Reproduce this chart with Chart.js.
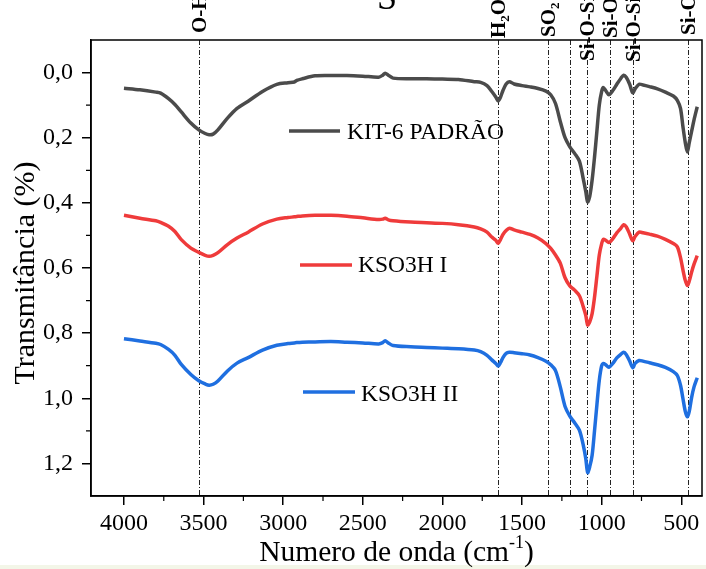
<!DOCTYPE html>
<html>
<head>
<meta charset="utf-8">
<script src="https://cdn.jsdelivr.net/npm/chart.js@4/dist/chart.umd.min.js"></script>
<style>
  html, body { margin: 0; padding: 0; background: #fff; }
  canvas { display: block; }
</style>
</head>
<body>
<canvas id="ftir" width="706" height="569"></canvas>
<script>
// Wavenumber grid (cm-1) shared by the three FTIR spectra
const wavenumbers = [
  4000, 3900, 3800, 3770, 3720, 3680, 3640, 3580, 3530, 3490, 3465, 3440, 3410, 3350, 3290, 3220,
  3130, 3040, 2970, 2930, 2915, 2880, 2800, 2700, 2600, 2500, 2400, 2375, 2360, 2340, 2310, 2200,
  2100, 2000, 1900, 1800, 1760, 1720, 1690, 1665, 1650, 1635, 1620, 1600, 1580, 1550, 1500, 1450,
  1400, 1350, 1320, 1290, 1260, 1230, 1200, 1170, 1140, 1115, 1100, 1088, 1075, 1060, 1045, 1030,
  1015, 1000, 990, 975, 955, 930, 905, 880, 862, 845, 825, 805, 790, 765, 740, 700,
  650, 600, 550, 525, 505, 490, 475, 462, 450, 435, 420, 400
];

// Transmittance of each sample (offset curves)
const kit6Padrao = [
  0.048, 0.053, 0.060, 0.063, 0.080, 0.098, 0.121, 0.155, 0.176, 0.187, 0.191, 0.189, 0.176, 0.140, 0.110, 0.088,
  0.058, 0.036, 0.031, 0.029, 0.024, 0.019, 0.010, 0.009, 0.009, 0.011, 0.014, 0.008, 0.002, 0.008, 0.017, 0.019,
  0.019, 0.020, 0.021, 0.028, 0.030, 0.040, 0.058, 0.075, 0.087, 0.075, 0.055, 0.035, 0.028, 0.035, 0.040, 0.044,
  0.049, 0.057, 0.068, 0.095, 0.150, 0.200, 0.228, 0.248, 0.272, 0.328, 0.365, 0.397, 0.380, 0.330, 0.260, 0.180,
  0.100, 0.058, 0.046, 0.055, 0.068, 0.055, 0.036, 0.018, 0.008, 0.015, 0.035, 0.062, 0.050, 0.036, 0.038, 0.043,
  0.050, 0.060, 0.072, 0.085, 0.110, 0.165, 0.215, 0.244, 0.215, 0.180, 0.145, 0.105
];
const kso3hI = [
  0.438, 0.447, 0.455, 0.460, 0.472, 0.488, 0.513, 0.539, 0.552, 0.561, 0.564, 0.561, 0.553, 0.528, 0.508, 0.490,
  0.465, 0.450, 0.445, 0.443, 0.442, 0.440, 0.438, 0.438, 0.441, 0.446, 0.451, 0.450, 0.447, 0.452, 0.455, 0.459,
  0.461, 0.463, 0.467, 0.474, 0.480, 0.490, 0.505, 0.515, 0.524, 0.512, 0.497, 0.485, 0.478, 0.483, 0.490, 0.497,
  0.508, 0.525, 0.540, 0.560, 0.585, 0.630, 0.655, 0.668, 0.685, 0.720, 0.745, 0.775, 0.765, 0.740, 0.690, 0.625,
  0.560, 0.525, 0.512, 0.515, 0.522, 0.510, 0.492, 0.478, 0.467, 0.474, 0.495, 0.516, 0.503, 0.490, 0.492, 0.496,
  0.502, 0.512, 0.525, 0.535, 0.568, 0.605, 0.638, 0.654, 0.640, 0.612, 0.588, 0.562
];
const kso3hII = [
  0.817, 0.824, 0.831, 0.835, 0.850, 0.868, 0.896, 0.927, 0.946, 0.956, 0.960, 0.957, 0.947, 0.916, 0.892, 0.875,
  0.852, 0.837, 0.832, 0.830, 0.829, 0.828, 0.827, 0.826, 0.828, 0.830, 0.833, 0.829, 0.823, 0.830, 0.838, 0.842,
  0.844, 0.846, 0.848, 0.852, 0.857, 0.868, 0.882, 0.893, 0.901, 0.890, 0.875, 0.862, 0.859, 0.860, 0.863, 0.867,
  0.875, 0.886, 0.897, 0.915, 0.965, 1.025, 1.055, 1.075, 1.098, 1.145, 1.185, 1.228, 1.210, 1.175, 1.100, 1.020,
  0.945, 0.900, 0.893, 0.897, 0.905, 0.893, 0.876, 0.865, 0.859, 0.866, 0.885, 0.906, 0.893, 0.884, 0.886, 0.891,
  0.897, 0.905, 0.918, 0.930, 0.960, 1.000, 1.040, 1.057, 1.040, 0.997, 0.965, 0.937
];

const seriesNames = ['KIT-6 PADRÃO', 'KSO3H I', 'KSO3H II'];
const xTickValues = [4000, 3500, 3000, 2500, 2000, 1500, 1000, 500];
const xMinorTicks = [3750, 3250, 2750, 2250, 1750, 1250, 750];
const yTickValues = [0, 0.2, 0.4, 0.6, 0.8, 1.0, 1.2];
const yMinorTicks = [0.1, 0.3, 0.5, 0.7, 0.9, 1.1];

// Band assignments (cm-1) and their labels
const bandPositions = [3530, 1650, 1335, 1200, 1090, 950, 805, 460];
const bandLabels = ['O-H', 'H₂O', 'SO₂', '', 'Si-O-Si', 'Si-O', 'Si-O-Si', 'Si-O'];

const xTitle = 'Numero de onda (cm';
const xTitleSup = '-1';
const yTitle = 'Transmitância (%)';
const topCaption = 'S';

// ---- styling ----
const serif = '"Liberation Serif", "Times New Roman", serif';
const seriesColors = ['#4b4b4b', '#ef3b3b', '#1f6fe0'];
const bandLabelBottom = [33, 38, 37, 0, 61, 38, 62, 35];
const legendSpots = [
  { x0: 289, x1: 340, y: 131, tx: 347, ty: 139 },
  { x0: 300, x1: 352, y: 265, tx: 358, ty: 272 },
  { x0: 303, x1: 355, y: 392, tx: 361, ty: 401 }
];

const toPoints = vals => wavenumbers.map((w, i) => ({ x: w, y: vals[i] }));

const decor = {
  id: 'decor',
  beforeDraw(chart) {
    const c = chart.ctx;
    c.save();
    c.fillStyle = '#ffffff';
    c.fillRect(0, 0, chart.width, chart.height);
    c.fillStyle = '#f3f6e8';
    c.fillRect(0, 565, chart.width, 4);
    c.restore();
  },
  beforeDatasetsDraw(chart) {
    const c = chart.ctx, a = chart.chartArea, xs = chart.scales.x;
    c.save();
    c.strokeStyle = '#222';
    c.lineWidth = 1;
    c.setLineDash([5, 2, 1, 2]);
    bandPositions.forEach(w => {
      const px = Math.round(xs.getPixelForValue(w)) + 0.5;
      c.beginPath();
      c.moveTo(px, a.top);
      c.lineTo(px, a.bottom);
      c.stroke();
    });
    c.restore();
  },
  afterDraw(chart) {
    const c = chart.ctx, a = chart.chartArea, xs = chart.scales.x, ys = chart.scales.y;
    c.save();
    // frame
    c.strokeStyle = '#000';
    c.lineWidth = 1.5;
    c.strokeRect(a.left, a.top, a.right - a.left, a.bottom - a.top);
    // minor ticks
    c.lineWidth = 1.2;
    c.beginPath();
    xMinorTicks.forEach(v => {
      const px = xs.getPixelForValue(v);
      c.moveTo(px, a.bottom); c.lineTo(px, a.bottom + 5);
    });
    yMinorTicks.forEach(v => {
      const py = ys.getPixelForValue(v);
      c.moveTo(a.left - 5, py); c.lineTo(a.left, py);
    });
    c.stroke();

    // band labels, rotated to read upwards
    c.fillStyle = '#000';
    bandLabels.forEach((txt, i) => {
      if (!txt) return;
      const px = xs.getPixelForValue(bandPositions[i]);
      c.save();
      c.translate(px, bandLabelBottom[i]);
      c.rotate(-Math.PI / 2);
      c.textAlign = 'left';
      c.textBaseline = 'alphabetic';
      let pos = 0;
      for (const ch of txt) {
        if (ch === '₂') {
          c.font = 'bold 13px ' + serif;
          c.fillText('2', pos, 11);
          pos += c.measureText('2').width;
        } else {
          c.font = 'bold 21px ' + serif;
          c.fillText(ch, pos, 7);
          pos += c.measureText(ch).width;
        }
      }
      c.restore();
    });

    // legend entries placed beside the curves
    chart.data.datasets.forEach((ds, i) => {
      const s = legendSpots[i];
      c.strokeStyle = ds.borderColor;
      c.lineWidth = 3.3;
      c.setLineDash([]);
      c.beginPath();
      c.moveTo(s.x0, s.y); c.lineTo(s.x1, s.y);
      c.stroke();
      c.fillStyle = '#000';
      c.font = '23.5px ' + serif;
      c.textAlign = 'left';
      c.textBaseline = 'alphabetic';
      c.fillText(ds.label, s.tx, s.ty);
    });

    // x axis title with superscript
    c.fillStyle = '#000';
    c.font = '29.5px ' + serif;
    const wMain = c.measureText(xTitle).width;
    c.font = '18px ' + serif;
    const wSup = c.measureText(xTitleSup).width;
    c.font = '29.5px ' + serif;
    const wClose = c.measureText(')').width;
    const total = wMain + wSup + wClose;
    const x0 = (a.left + a.right) / 2 - total / 2;
    c.textAlign = 'left';
    c.fillText(xTitle, x0, 561);
    c.font = '18px ' + serif;
    c.fillText(xTitleSup, x0 + wMain, 548);
    c.font = '29.5px ' + serif;
    c.fillText(')', x0 + wMain + wSup, 561);

    // y axis title
    c.save();
    c.translate(34, 273);
    c.rotate(-Math.PI / 2);
    c.textAlign = 'center';
    c.font = '30px ' + serif;
    c.fillText(yTitle, 0, 0);
    c.restore();

    // caption above the frame
    c.font = '36px ' + serif;
    c.textAlign = 'center';
    c.fillText(topCaption, 387, 9);
    c.restore();
  }
};

new Chart(document.getElementById('ftir'), {
  type: 'scatter',
  data: {
    datasets: [kit6Padrao, kso3hI, kso3hII].map((vals, i) => ({
      label: seriesNames[i],
      data: toPoints(vals),
      showLine: true,
      borderColor: seriesColors[i],
      backgroundColor: seriesColors[i],
      borderWidth: 3.5,
      pointRadius: 0,
      tension: 0.3,
      fill: false
    }))
  },
  options: {
    responsive: false,
    animation: false,
    devicePixelRatio: 1,
    layout: { padding: { top: 40, right: 4, left: 0, bottom: 0 } },
    plugins: { legend: { display: false }, tooltip: { enabled: false }, title: { display: false } },
    scales: {
      x: {
        type: 'linear',
        reverse: true,
        min: 370,
        max: 4207,
        afterBuildTicks: s => { s.ticks = xTickValues.map(v => ({ value: v })); },
        afterFit: s => { s.height = 73; },
        ticks: {
          autoSkip: false, maxRotation: 0, padding: 4, color: '#000',
          font: { family: serif, size: 24 },
          callback: v => String(v)
        },
        grid: { drawOnChartArea: false, drawTicks: true, tickLength: 9, color: '#000', lineWidth: 1.5 },
        border: { display: true, color: '#000', width: 1.5 }
      },
      y: {
        type: 'linear',
        reverse: true,
        min: -0.1,
        max: 1.3,
        afterBuildTicks: s => { s.ticks = yTickValues.map(v => ({ value: v })); },
        afterFit: s => { s.width = 91; },
        ticks: {
          autoSkip: false, padding: 9, color: '#000',
          font: { family: serif, size: 24 },
          callback: v => Number(v).toFixed(1).replace('.', ',')
        },
        grid: { drawOnChartArea: false, drawTicks: true, tickLength: 9, color: '#000', lineWidth: 1.5 },
        border: { display: true, color: '#000', width: 1.5 }
      }
    }
  },
  plugins: [decor]
});
</script>
</body>
</html>
